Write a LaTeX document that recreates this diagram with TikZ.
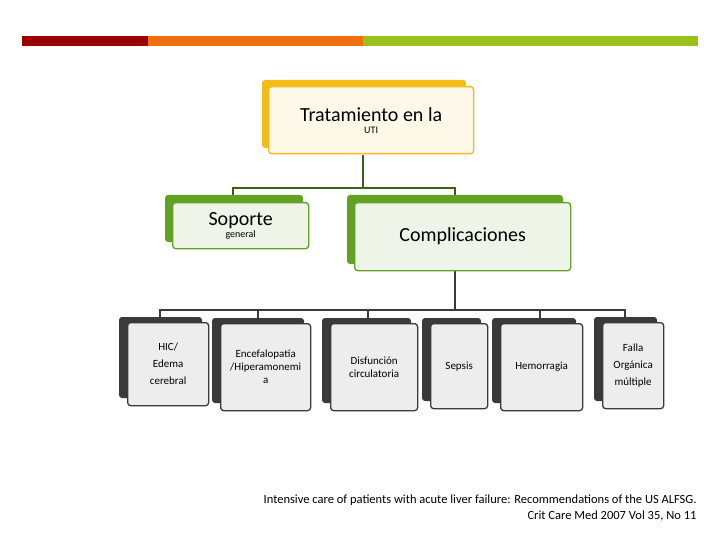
\documentclass[tikz,border=0pt]{standalone}
\usepackage{fontspec}
\setmainfont{Carlito}
\definecolor{barred}{HTML}{990000}
\definecolor{barorange}{HTML}{F07010}
\definecolor{bargreen}{HTML}{99C11A}
\definecolor{gold}{HTML}{F2BC1B}
\definecolor{cream}{HTML}{FDF8E8}
\definecolor{leaf}{HTML}{62A123}
\definecolor{mint}{HTML}{EEF4E8}
\definecolor{ink}{HTML}{3A3A3A}
\definecolor{paper}{HTML}{EDEDED}
\tikzset{
  backbox/.style={rounded corners=3pt,inner sep=0pt,anchor=north west},
  frontbox/.style={rounded corners=3pt,draw,line width=1.3pt,align=center,inner sep=1pt,anchor=north west},
  link/.style={line width=2.2pt,ink}
}
\begin{document}
\begin{tikzpicture}[x=1pt,y=-1pt]
  \useasboundingbox (0,0) rectangle (720,540);
  % top bars
  \fill[barred] (22,36) rectangle (148,46);
  \fill[barorange] (148,36) rectangle (363,46);
  \fill[bargreen] (363,36) rectangle (698,46);
  % links
  \draw[link,leaf!60!black,line width=2.6pt] (363,155) -- (363,188) coordinate (hub);
  \draw[link,leaf!60!black,line width=2.6pt] (233,196) -- (233,188) -- (455,188) -- (455,196);
  \draw[link] (455,270) -- (455,310);
  \draw[link] (160,318) -- (160,310) -- (625,310) -- (625,318);
  \foreach \x in {258,368,540} \draw[link] (\x,310) -- (\x,318);
  % level 1
  \fill[gold,rounded corners=3pt] (262,80) rectangle (466,148);
  \node[frontbox,draw=gold,fill=cream,minimum width=205pt,minimum height=67pt] (uti) at (268,86)
    {\fontsize{20}{23}\selectfont Tratamiento en la\\UTI};
  % level 2
  \fill[leaf,rounded corners=3pt] (165,195) rectangle (303,242);
  \node[frontbox,draw=leaf,fill=mint,minimum width=136pt,minimum height=46pt] (soporte) at (172,202)
    {\fontsize{20}{23}\selectfont Soporte\\general};
  \fill[leaf,rounded corners=3pt] (347,195) rectangle (563,264);
  \node[frontbox,draw=leaf,fill=mint,minimum width=216pt,minimum height=68pt] (compl) at (354,202)
    {\fontsize{20}{23}\selectfont Complicaciones};
  % level 3
  \foreach \l/\r/\t/\b/\txt/\nm in {
      127/208/322/405/{HIC/\\[4pt]Edema\\[4pt]cerebral}/hic,
      220/310/323/410/{Encefalopatía\\/Hiperamonemi\\a}/encef,
      330/417/323/410/{Disfunción\\circulatoria}/disf,
      430/487/323/408/{Sepsis}/sepsis,
      500/582/323/410/{Hemorragia}/hemo,
      602/663/322/408/{Falla\\[4pt]Orgánica\\[4pt]múltiple}/falla} {
    \fill[ink,rounded corners=3pt] (\l-8,\t-5) rectangle (\r-6,\b-7);
    \node[frontbox,draw=ink,fill=paper,minimum width=\r-\l,minimum height=\b-\t,
      font=\fontsize{11}{13}\selectfont] (\nm) at (\l,\t) {\txt};
  }
  % citation
  \node[anchor=north east,align=right,font=\fontsize{12.5}{16}\selectfont] (cite) at (700,491)
    {Intensive care of patients with acute liver failure: Recommendations of the US ALFSG.\\
     Crit Care Med 2007 Vol 35, No 11};
\end{tikzpicture}
\end{document}
